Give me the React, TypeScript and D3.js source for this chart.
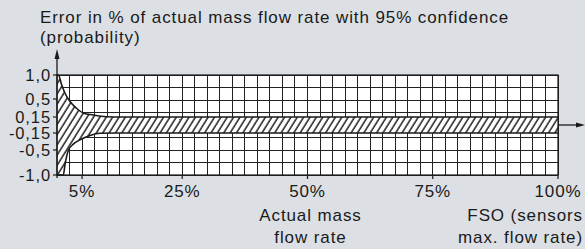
import * as d3 from "d3";
import React from "react";

// error envelope (x = % of FSO, y = error in %)
const upperX = [0, 0.26, 0.94, 1.6, 2.6, 3.9, 5.2, 7.2, 9.9, 13, 100];
const upperY = [1.0, 1.0, 0.79, 0.62, 0.45, 0.32, 0.23, 0.19, 0.156, 0.15, 0.15];
const lowerX = [0, 1.26, 1.6, 2.25, 3.25, 4.6, 6.6, 8.6, 12, 100];
const lowerY = [-1.0, -1.0, -0.79, -0.51, -0.38, -0.29, -0.2, -0.155, -0.15, -0.15];

const yTickVals = [1.0, 0.5, 0.15, -0.15, -0.5, -1.0];
const yTickLabels = ["1,0", "0,5", "0,15", "-0,15", "-0,5", "-1,0"];
const xTickVals = [5, 25, 50, 75, 100];
const xTickLabels = ["5%", "25%", "50%", "75%", "100%"];

const W = 585;
const H = 249;
const left = 57;
const right = 558;
const top = 75;
const bottom = 175;
const font = "'Liberation Sans', Arial, sans-serif";
const ink = "#1a1a1a";

const App = () => {
  const x = d3.scaleLinear([0, 100], [left, right]);
  // schematic, piecewise axis
  const y = d3.scaleLinear([-1, -0.5, -0.15, 0.15, 0.5, 1], [bottom, 150, 133, 117, 99, top]);
  const gridCol = d3.range(0, 100.01, 2.5);
  const gridRow = d3.scaleLinear([0, 8], [top, bottom]);

  const upper = upperX.map((v, i) => [v, upperY[i]]);
  const lower = lowerX.map((v, i) => [v, lowerY[i]]);

  const area = d3
    .area<number[]>()
    .x((d) => x(d[0]))
    .y0(y(0))
    .y1((d) => y(d[1]))
    .curve(d3.curveMonotoneX);
  const line = d3
    .line<number[]>()
    .x((d) => x(d[0]))
    .y((d) => y(d[1]))
    .curve(d3.curveMonotoneX);

  const txt = { fontFamily: font, fontSize: 17, fill: ink, letterSpacing: 0.9 };

  return (
    <svg width={W} height={H} style={{ position: "absolute", left: 0, top: 0 }}>
      <defs>
        <pattern id="hatch" patternUnits="userSpaceOnUse" width={5.4} height={10} patternTransform="rotate(32)">
          <line x1={1} y1={0} x2={1} y2={10} stroke="#000" strokeWidth={1.3} />
        </pattern>
      </defs>
      <rect width={W} height={H} fill="#dce0e5" />
      <rect x={left} y={top} width={right - left} height={bottom - top} fill="#fff" />
      <g stroke="#222" strokeWidth={1} shapeRendering="crispEdges">
        {gridCol.map((c) => (
          <line key={"c" + c} x1={x(c)} x2={x(c)} y1={top} y2={bottom} />
        ))}
        {d3.range(0, 9).map((r) => (
          <line key={"r" + r} x1={left} x2={right} y1={gridRow(r)} y2={gridRow(r)} />
        ))}
      </g>
      {/* hatched error envelope */}
      <path d={area(upper) || ""} fill="#fff" />
      <path d={area(lower) || ""} fill="#fff" />
      <path d={area(upper) || ""} fill="url(#hatch)" />
      <path d={area(lower) || ""} fill="url(#hatch)" />
      <path d={line(upper) || ""} fill="none" stroke={ink} strokeWidth={1.6} />
      <path d={line(lower) || ""} fill="none" stroke={ink} strokeWidth={1.6} />
      <rect x={left} y={top} width={right - left} height={bottom - top} fill="none" stroke={ink} strokeWidth={1.2} />

      {/* y axis with arrow */}
      <line x1={left} x2={left} y1={bottom + 3} y2={56} stroke={ink} strokeWidth={1.3} />
      <path d={`M${left},49L${left - 2.5},59L${left + 2.5},59Z`} fill={ink} />
      {yTickVals.map((v, i) => (
        <g key={"y" + v}>
          <line x1={left - 4} x2={left} y1={y(v)} y2={y(v)} stroke={ink} strokeWidth={1.2} />
          <text x={51} y={y(v)} dy="0.36em" textAnchor="end" {...txt} fontSize={16.5}>
            {yTickLabels[i]}
          </text>
        </g>
      ))}

      {/* x axis arrow at zero */}
      <line x1={right} x2={578} y1={y(0)} y2={y(0)} stroke={ink} strokeWidth={1.3} />
      <path d={`M585,${y(0)}L576,${y(0) - 2.5}L576,${y(0) + 2.5}Z`} fill={ink} />
      {xTickVals.map((v, i) => (
        <g key={"x" + v}>
          <line x1={x(v)} x2={x(v)} y1={bottom} y2={bottom + 4} stroke={ink} strokeWidth={1.2} />
          <text x={x(v)} y={197} textAnchor="middle" {...txt}>
            {xTickLabels[i]}
          </text>
        </g>
      ))}

      <text x={40} y={23} {...txt}>
        Error in % of actual mass flow rate with 95% confidence
      </text>
      <text x={40} y={43} {...txt}>
        (probability)
      </text>
      <text x={x(50) + 3} y={221} textAnchor="middle" {...txt}>
        Actual mass
      </text>
      <text x={x(50) + 3} y={243} textAnchor="middle" {...txt}>
        flow rate
      </text>
      <text x={583} y={221} textAnchor="end" {...txt}>
        FSO (sensors
      </text>
      <text x={583} y={243} textAnchor="end" {...txt}>
        max. flow rate)
      </text>
    </svg>
  );
};

export default App;
